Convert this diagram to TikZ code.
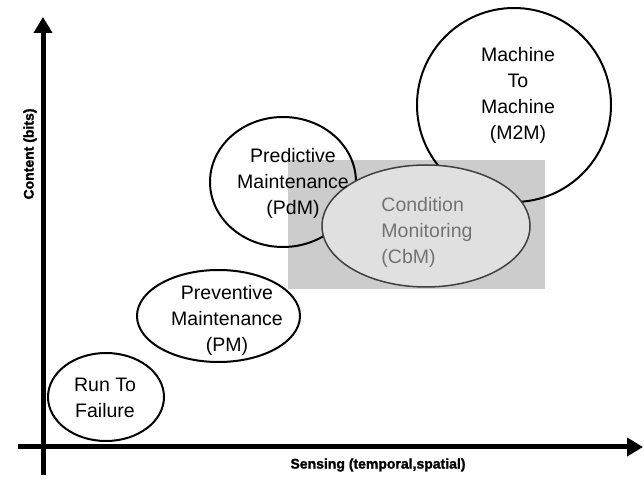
\documentclass[tikz,border=0pt]{standalone}
\usepackage{fontspec}
\setmainfont{Liberation Sans}
\newfontfamily\axisfont[FakeBold=1.5]{Liberation Sans Bold}
\usetikzlibrary{shapes.geometric,arrows.meta}

\begin{document}
\begin{tikzpicture}[>={Triangle[length=16bp,width=18bp]},line join=bevel,
  phase/.style={draw,ellipse,line width=2bp,inner sep=0pt},
  phasetext/.style={align=center,inner sep=0pt,font=\fontsize{19.5bp}{26bp}\selectfont},
  axislabel/.style={inner sep=0pt,font=\fontsize{14bp}{16bp}\axisfont},
  axis/.style={line width=5bp}]
\useasboundingbox (0bp,0bp) rectangle (644bp,483bp);
%%
\fill [gray!40] (288bp,194bp) rectangle (545bp,323bp);
\node (run) at (106bp,86bp) [phase,minimum width=116bp,minimum height=88bp] {};
  \node (pm) at (218.5bp,167bp) [phase,minimum width=163bp,minimum height=92bp] {};
  \node (pdm) at (283bp,301bp) [phase,minimum width=146bp,minimum height=130bp] {};
  \node (m2m) at (514bp,378bp) [phase,minimum width=194bp,minimum height=194bp] {};
  \node (cbm) at (426bp,257bp) [phase,draw=black!75,line width=1.5bp,fill=gray!24,minimum width=208bp,minimum height=122bp] {};
%%
\node (run_text) at (105bp,85.5bp) [phasetext] {Run To\\Failure};
  \node (pm_text) at (227bp,163bp) [phasetext] {Preventive\\Maintenance\\(PM)};
  \node (pdm_text) at (293bp,300bp) [phasetext] {Predictive\\Maintenance\\(PdM)};
  \node (m2m_text) at (518bp,388bp) [phasetext] {Machine\\To\\Machine\\(M2M)};
  \node (cbm_text) at (427bp,251bp) [phasetext,align=left,text=black!55] {Condition\\Monitoring\\(CbM)};
%%
\coordinate (y_start) at (43bp,8bp);
  \coordinate (y_end) at (43bp,466bp);
  \coordinate (x_start) at (18bp,36bp);
  \coordinate (x_end) at (643bp,36bp);
  \draw [axis,->] (y_start) -- (y_end);
  \draw [axis,->] (x_start) -- (x_end);
  \node (y_label) at (30bp,329bp) [axislabel,rotate=90] {Content (bits)};
  \node (x_label) at (378bp,18bp) [axislabel] {Sensing (temporal,spatial)};
%
\end{tikzpicture}
\end{document}
